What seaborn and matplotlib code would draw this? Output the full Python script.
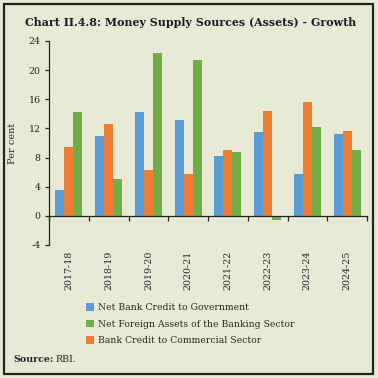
import numpy as np
import pandas as pd
import matplotlib
matplotlib.use("Agg")
import matplotlib.pyplot as plt
import seaborn as sns
from matplotlib.ticker import FixedLocator, NullFormatter, FixedFormatter
from matplotlib.patches import Rectangle, Patch

years = ["2017-18", "2018-19", "2019-20", "2020-21", "2021-22", "2022-23", "2023-24", "2024-25"]
gov = [3.5, 11.0, 14.2, 13.2, 8.2, 11.5, 5.7, 11.2]
commercial = [9.5, 12.6, 6.3, 5.7, 9.0, 14.4, 15.6, 11.7]
foreign = [14.2, 5.0, 22.4, 21.4, 8.8, -0.6, 12.2, 9.0]

s_gov = "Net Bank Credit to Government"
s_for = "Net Foreign Assets of the Banking Sector"
s_com = "Bank Credit to Commercial Sector"
yticks = [-4, 0, 4, 8, 12, 16, 20, 24]

df = pd.DataFrame({
    "year": years * 3,
    "value": gov + commercial + foreign,
    "series": [s_gov] * 8 + [s_com] * 8 + [s_for] * 8,
})

bg = "#E9EAD6"
colors = {s_gov: "#5B9BD5", s_com: "#ED7D31", s_for: "#70AD47"}
serif = ["DejaVu Serif"]

sns.set_style("white")
plt.rcParams["font.family"] = serif

fig = plt.figure(figsize=(3.78, 3.78), dpi=100, facecolor=bg)
ax = fig.add_axes([49 / 378, 1 - 245 / 378, 318 / 378, 204 / 378])
ax.set_facecolor(bg)

sns.barplot(data=df, x="year", y="value", hue="series",
            hue_order=[s_gov, s_com, s_for], palette=colors,
            width=0.68, ax=ax, legend=False, saturation=1, linewidth=0)

ax.set_xlim(-0.5, 7.5)
ax.set_ylim(-4, 24)
ax.set_yticks(yticks)
ax.set_yticklabels([str(v) for v in yticks], fontsize=6.8)
ax.set_ylabel("Per cent", fontsize=7, labelpad=8)
ax.set_xlabel("")

ax.spines["right"].set_visible(False)
ax.spines["bottom"].set_visible(False)
ax.spines["top"].set_position(("data", 0))
ax.spines["top"].set_color("#222222")
ax.spines["top"].set_linewidth(0.9)
ax.spines["left"].set_color("#222222")
ax.spines["left"].set_linewidth(0.9)

ax.xaxis.set_major_locator(FixedLocator(np.arange(-0.5, 8.0, 1.0)))
ax.xaxis.set_major_formatter(NullFormatter())
ax.xaxis.set_minor_locator(FixedLocator(np.arange(0, 8)))
ax.xaxis.set_minor_formatter(FixedFormatter(years))
ax.tick_params(axis="x", which="major", top=True, bottom=False, direction="in",
               length=3.5, width=0.9, color="#222222", labeltop=False, labelbottom=False)
ax.tick_params(axis="x", which="minor", top=False, bottom=True, length=0,
               labelbottom=True, labelrotation=90, labelsize=6.8, pad=4)
ax.tick_params(axis="y", direction="out", length=3, width=0.9, color="#222222", left=True, pad=3)

fig.text(25 / 378, 1 - 23 / 378, "Chart II.4.8: Money Supply Sources (Assets) - Growth",
         fontsize=7.9, fontweight="bold", va="center", ha="left", color="#1a1a2a")

handles = [Patch(facecolor=colors[s], edgecolor="none") for s in [s_gov, s_for, s_com]]
fig.legend(handles, [s_gov, s_for, s_com], loc="upper left",
           bbox_to_anchor=(86 / 378, 1 - 303 / 378), frameon=False, fontsize=6.7,
           handlelength=0.9, handleheight=0.9, handletextpad=0.35, labelspacing=0.8,
           borderpad=0, borderaxespad=0)

fig.text(13 / 378, 1 - 359 / 378, "Source:", fontsize=6.8, fontweight="bold", va="center", ha="left")
fig.text(56 / 378, 1 - 359 / 378, "RBI.", fontsize=6.8, va="center", ha="left")

fig.patches.append(Rectangle((4 / 378, 4 / 378), 369 / 378, 370 / 378, transform=fig.transFigure,
                             fill=False, edgecolor="#222222", linewidth=1.6))

fig.savefig("out.png", dpi=100, facecolor=bg)
